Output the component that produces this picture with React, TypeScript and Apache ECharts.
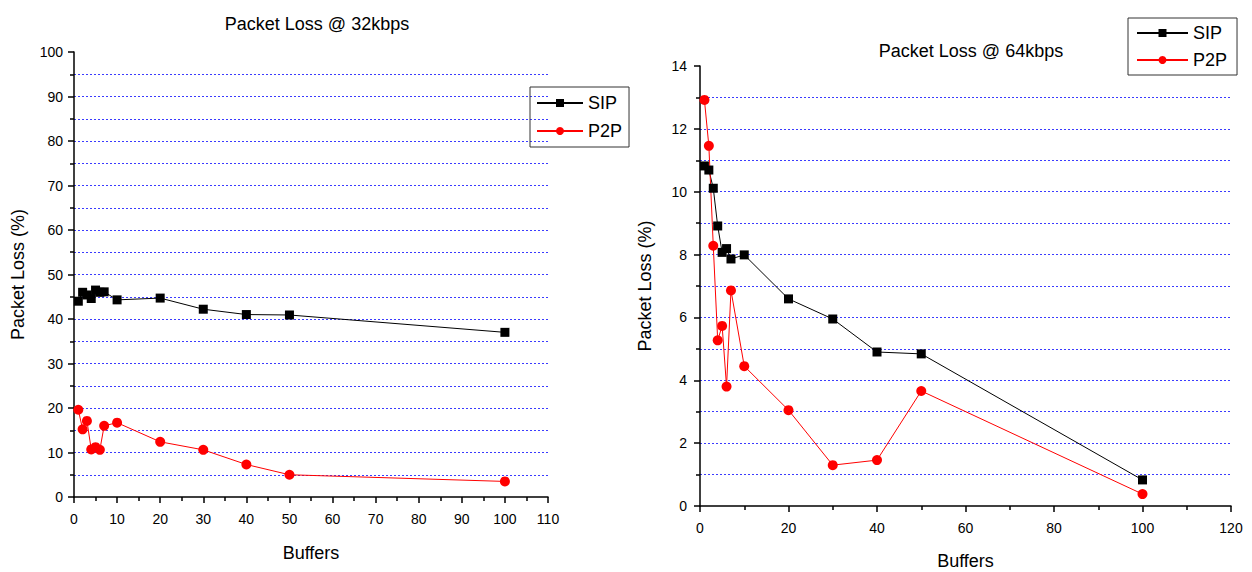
import React, { useEffect, useRef } from "react";
import * as echarts from "echarts";

const buffers = [1, 2, 3, 4, 5, 6, 7, 10, 20, 30, 40, 50, 100];
const sip32 = [44.0, 46.0, 45.4, 44.6, 46.5, 46.0, 46.1, 44.3, 44.7, 42.2, 41.0, 40.9, 37.0];
const p2p32 = [19.6, 15.2, 17.1, 10.7, 11.2, 10.6, 16.0, 16.7, 12.4, 10.6, 7.3, 5.0, 3.5];
const sip64 = [10.82, 10.69, 10.11, 8.91, 8.07, 8.19, 7.86, 7.99, 6.59, 5.95, 4.9, 4.84, 0.83];
const p2p64 = [12.92, 11.46, 8.28, 5.27, 5.73, 3.8, 6.86, 4.45, 3.05, 1.3, 1.46, 3.66, 0.38];

const titles = ["Packet Loss @ 32kbps", "Packet Loss @ 64kbps"];
const seriesNames = ["SIP", "P2P"];
const xName = "Buffers";
const yName = "Packet Loss (%)";

const FONT = "'Liberation Sans', Arial, sans-serif";

const pairs = (xs: number[], ys: number[]) => xs.map((x, i) => [x, ys[i]]);

const gridLine = { show: true, lineStyle: { color: "#3b3bff", type: [2, 2] as any, width: 1 }, showMinLine: false, showMaxLine: false };

function axisBase(margin: number) {
  return {
    axisLine: { show: true, onZero: false, lineStyle: { color: "#000", width: 1.5 } },
    axisTick: { show: true, inside: false, length: 6, lineStyle: { color: "#000", width: 1.5 } },
    minorTick: { show: true, splitNumber: 2, length: 4, lineStyle: { color: "#000", width: 1.5 } },
    axisLabel: { color: "#000", fontSize: 14, fontFamily: FONT, margin },
    nameTextStyle: { color: "#000", fontSize: 18, fontFamily: FONT },
  };
}

export default function App() {
  const ref = useRef<HTMLDivElement>(null);
  useEffect(() => {
    if (!ref.current) return;
    const chart = echarts.init(ref.current, null, { renderer: "svg" });
    const sipStyle = {
      type: "line",
      symbol: "rect",
      symbolSize: 9,
      itemStyle: { color: "#000" },
      lineStyle: { color: "#000", width: 1 },
    };
    const p2pStyle = {
      type: "line",
      symbol: "circle",
      symbolSize: 10,
      itemStyle: { color: "#ff0000" },
      lineStyle: { color: "#ff0000", width: 1 },
    };
    const titleStyle = { fontSize: 18, fontWeight: "normal", color: "#000", fontFamily: FONT };
    const legendText = { fontSize: 18, color: "#000", fontFamily: FONT, lineHeight: 20 };
    chart.setOption({
      animation: false,
      backgroundColor: "#fff",
      title: [
        { text: titles[0], left: 312, top: 10, textAlign: "center", textStyle: titleStyle },
        { text: titles[1], left: 966, top: 37, textAlign: "center", textStyle: titleStyle },
      ],
      legend: [
        {
          data: seriesNames, orient: "vertical", left: 530, top: 87, itemWidth: 46, itemHeight: 10, itemGap: 8,
          padding: [6, 7, 6, 6], borderColor: "#333", borderWidth: 1, selectedMode: false,
          textStyle: legendText,
        },
        {
          data: seriesNames, orient: "vertical", left: 1128, top: 18, itemWidth: 51, itemHeight: 10, itemGap: 7,
          padding: [5, 10, 5, 8], borderColor: "#333", borderWidth: 1, selectedMode: false,
          textStyle: legendText,
        },
      ],
      grid: [
        { left: 74, top: 52, width: 474, height: 445, containLabel: false, outerBoundsMode: "none" },
        { left: 700, top: 66, width: 531, height: 440, containLabel: false, outerBoundsMode: "none" },
      ],
      xAxis: [
        { ...axisBase(15), gridIndex: 0, type: "value", min: 0, max: 110, interval: 10, splitLine: { show: false }, name: xName, nameLocation: "middle", nameGap: 47 },
        { ...axisBase(15), gridIndex: 1, type: "value", min: 0, max: 120, interval: 20, splitLine: { show: false }, name: xName, nameLocation: "middle", nameGap: 46 },
      ],
      yAxis: [
        { ...axisBase(11), gridIndex: 0, type: "value", min: 0, max: 100, interval: 10, splitLine: gridLine, minorSplitLine: gridLine, name: yName, nameLocation: "middle", nameGap: 47 },
        { ...axisBase(13), gridIndex: 1, type: "value", min: 0, max: 14, interval: 2, splitLine: gridLine, minorSplitLine: gridLine, name: yName, nameLocation: "middle", nameGap: 46 },
      ],
      series: [
        { ...sipStyle, name: seriesNames[0], xAxisIndex: 0, yAxisIndex: 0, data: pairs(buffers, sip32) },
        { ...p2pStyle, name: seriesNames[1], xAxisIndex: 0, yAxisIndex: 0, data: pairs(buffers, p2p32) },
        { ...sipStyle, name: seriesNames[0], xAxisIndex: 1, yAxisIndex: 1, data: pairs(buffers, sip64) },
        { ...p2pStyle, name: seriesNames[1], xAxisIndex: 1, yAxisIndex: 1, data: pairs(buffers, p2p64) },
      ],
    });
    return () => chart.dispose();
  }, []);
  return <div ref={ref} style={{ position: "fixed", left: 0, top: 0, width: 1252, height: 572 }} />;
}
